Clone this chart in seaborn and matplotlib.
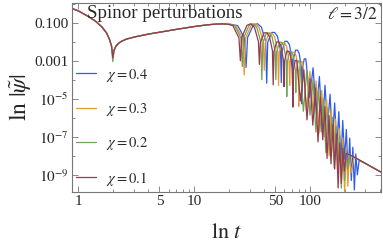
import numpy as np
import pandas as pd
import matplotlib
matplotlib.use("Agg")
import matplotlib.pyplot as plt
import seaborn as sns
from matplotlib.ticker import FixedLocator, FixedFormatter, NullFormatter

# --- data: t and log10|psi| ---
# early part, identical for every chi
t_early = [0.88, 1.0, 1.2, 1.4, 1.6, 1.75, 1.85, 1.93]
lg_early = [-0.25, -0.38, -0.65, -0.91, -1.23, -1.54, -1.86, -2.22]
t_dip0 = 1.98
lg_dip0 = [-2.6, -2.8, -3.05, -2.85]          # chi = 0.4, 0.3, 0.2, 0.1
t_rise = [2.03, 2.1, 2.2, 2.35, 2.6, 3.1, 4.0, 5.0, 7.0, 10.0, 13.0, 15.5, 17.5]
lg_rise = [-2.45, -2.25, -2.1, -1.98, -1.86, -1.74, -1.6, -1.5, -1.35, -1.2, -1.11, -1.07, -1.06]

# ringdown + tail, chi = 0.4
t_04 = [20.5, 23.7, 27.15, 28.0, 28.85, 32.26, 35.1, 37.96, 41.35, 42.2, 43.05, 46.46, 49.3,
        52.16, 55.55, 56.4, 57.25, 60.66, 63.5, 66.36, 69.75, 70.6, 71.45, 74.86, 77.7, 80.56,
        83.95, 84.8, 85.65, 89.06, 91.9, 99.0, 106.1, 113.2, 120.3, 127.4, 134.5, 141.6, 148.7,
        155.8, 162.9, 170.0, 177.1, 184.2, 191.3, 198.4, 205.5, 212.6, 219.7, 226.8, 233.9,
        241.0, 248.0, 256.0, 265.0, 300.0, 350.0, 410.0]
lg_04 = [-1.08, -1.15, -1.8, -3.35, -1.78, -1.14, -1.05, -1.23, -1.98, -4.18, -2.04, -1.51, -1.51,
         -1.70, -2.45, -4.15, -2.50, -1.97, -1.98, -2.16, -2.91, -4.21, -2.97, -2.44, -2.44, -2.62,
         -3.37, -5.27, -3.43, -2.90, -2.90, -4.94, -3.37, -5.80, -3.83, -6.56, -4.29, -6.43, -4.76,
         -7.29, -5.22, -7.55, -5.68, -8.51, -6.14, -8.18, -6.61, -9.04, -7.07, -9.3, -7.55,
         -9.8, -7.9, -9.0, -8.24, -8.40, -8.63, -8.86]

# chi = 0.3
t_03 = [20.0, 22.8, 26.2, 27.0, 27.8, 31.0, 33.6, 36.2, 39.4, 40.2, 41.0, 44.2, 46.8, 49.4, 52.6,
        53.4, 54.2, 57.4, 60.0, 62.6, 65.8, 66.6, 67.4, 70.6, 73.2, 75.8, 79.0, 79.8, 80.6, 83.8,
        86.4, 93.0, 99.6, 106.2, 112.8, 119.4, 126.0, 132.6, 139.2, 145.8, 152.4, 159.0, 165.6,
        172.2, 178.8, 185.4, 192.0, 198.6, 205.2, 211.8, 218.0, 226.0, 240.0, 300.0, 350.0, 410.0]
lg_03 = [-1.08, -1.15, -1.8, -3.75, -1.78, -1.14, -1.05, -1.24, -2.0, -3.5, -2.06, -1.54, -1.55,
         -1.74, -2.50, -4.3, -2.56, -2.04, -2.05, -2.24, -3.0, -4.3, -3.06, -2.55, -2.55, -2.74,
         -3.51, -5.41, -3.57, -3.05, -3.06, -5.61, -3.56, -5.71, -4.06, -6.81, -4.56, -7.01, -5.06,
         -8.01, -5.56, -7.82, -6.07, -8.72, -6.57, -9.12, -7.07, -9.92, -7.57, -9.6, -7.9, -8.9,
         -8.08, -8.40, -8.63, -8.86]

# chi = 0.2
t_02 = [20.0, 22.3, 25.26, 26.0, 26.74, 29.7, 32.15, 34.6, 37.56, 38.3, 39.04, 42.0, 44.45, 46.9,
        49.86, 50.6, 51.34, 54.3, 56.75, 59.2, 62.16, 62.9, 63.64, 66.6, 69.05, 71.5, 74.46, 75.2,
        75.94, 78.9, 81.35, 87.5, 93.65, 99.8, 105.95, 112.1, 118.25, 124.4, 130.55, 136.7,
        142.85, 149.0, 155.15, 161.3, 167.45, 173.6, 179.75, 185.9, 192.05, 198.2, 204.0, 211.0,
        220.0, 250.0, 300.0, 350.0, 410.0]
lg_02 = [-1.08, -1.15, -1.8, -3.3, -1.78, -1.14, -1.05, -1.24, -2.0, -4.0, -2.06, -1.53, -1.54,
         -1.73, -2.49, -3.99, -2.55, -2.03, -2.03, -2.22, -2.98, -4.88, -3.04, -2.52, -2.53, -2.71,
         -3.47, -4.67, -3.53, -3.01, -3.02, -5.66, -3.51, -5.86, -4.00, -6.75, -4.49, -6.74,
         -4.99, -7.83, -5.48, -7.92, -5.97, -8.62, -6.46, -8.71, -6.95, -9.7, -7.45, -9.3, -7.75,
         -8.7, -7.96, -8.14, -8.40, -8.63, -8.86]

# chi = 0.1
t_01 = [19.5, 21.55, 24.3, 25.0, 25.7, 28.45, 30.75, 33.05, 35.8, 36.5, 37.2, 39.95, 42.25, 44.55,
        47.3, 48.0, 48.7, 51.45, 53.75, 56.05, 58.8, 59.5, 60.2, 62.95, 65.25, 67.55, 70.3, 71.0,
        71.7, 74.45, 76.75, 82.5, 88.25, 94.0, 99.75, 105.5, 111.25, 117.0, 122.75, 128.5,
        134.25, 140.0, 145.75, 151.5, 157.25, 163.0, 168.75, 174.5, 180.25, 186.0, 191.75,
        197.5, 205.0, 240.0, 300.0, 350.0, 410.0]
lg_01 = [-1.08, -1.15, -1.8, -3.0, -1.78, -1.14, -1.05, -1.24, -1.99, -3.19, -2.05, -1.53, -1.53,
         -1.72, -2.47, -4.27, -2.53, -2.01, -2.02, -2.20, -2.96, -4.36, -3.02, -2.49, -2.50, -2.69,
         -3.44, -5.44, -3.50, -2.98, -2.98, -5.12, -3.47, -6.11, -3.95, -6.39, -4.43, -7.27,
         -4.91, -7.16, -5.40, -8.14, -5.88, -8.42, -6.36, -8.70, -6.85, -9.69, -7.33, -9.45,
         -7.6, -8.8, -7.87, -8.06, -8.40, -8.63, -8.86]

chis = ["0.4", "0.3", "0.2", "0.1"]
colors = ["#2D5AF0", "#E59A2A", "#72A25C", "#963A4E"]
t_late = [t_04, t_03, t_02, t_01]
lg_late = [lg_04, lg_03, lg_02, lg_01]

frames = []
for chi, dip, tl, ll in zip(chis, lg_dip0, t_late, lg_late):
    t = t_early + [t_dip0] + t_rise + tl
    lg = lg_early + [dip] + lg_rise + ll
    lab = r"$\chi = %s$" % chi
    frames.append(pd.DataFrame({"t": t, "psi": 10.0 ** np.array(lg), "chi": lab}))
df = pd.concat(frames, ignore_index=True)
labels = [r"$\chi = %s$" % c for c in chis]

sns.set_style("ticks")
plt.rcParams["font.family"] = "serif"
plt.rcParams["font.serif"] = ["Liberation Serif", "DejaVu Serif"]
plt.rcParams["mathtext.fontset"] = "stix"

fig = plt.figure(figsize=(3.83, 2.47), dpi=100)
ax = fig.add_axes([0.188, 0.223, 0.807, 0.765])
ax.set_xscale("log")
ax.set_yscale("log")

sns.lineplot(data=df, x="t", y="psi", hue="chi", hue_order=labels,
             palette=dict(zip(labels, colors)), estimator=None, sort=False,
             linewidth=0.9, ax=ax)

ax.set_xlim(0.88, 410)
ax.set_ylim(10 ** -9.9, 10 ** 0.04)

ax.xaxis.set_major_locator(FixedLocator([1, 5, 10, 50, 100]))
ax.xaxis.set_major_formatter(FixedFormatter(["1", "5", "10", "50", "100"]))
ax.xaxis.set_minor_locator(FixedLocator([2, 3, 4, 6, 7, 8, 9, 20, 30, 40, 60, 70, 80, 90, 200, 300, 400]))
ax.xaxis.set_minor_formatter(NullFormatter())
ax.yaxis.set_major_locator(FixedLocator([1e-1, 1e-3, 1e-5, 1e-7, 1e-9]))
ax.yaxis.set_major_formatter(FixedFormatter(["0.100", "0.001", r"$10^{-5}$", r"$10^{-7}$", r"$10^{-9}$"]))
ax.yaxis.set_minor_locator(FixedLocator([1.0, 1e-2, 1e-4, 1e-6, 1e-8]))
ax.yaxis.set_minor_formatter(NullFormatter())

ax.tick_params(which="both", direction="in", top=True, right=True, color="#777777",
               width=0.6, labelsize=11, pad=2.5)
ax.tick_params(which="major", length=4)
ax.tick_params(which="minor", length=2.2)
for s in ax.spines.values():
    s.set_color("#777777")
    s.set_linewidth(0.8)

ax.set_xlabel(r"$\ln\, t$", fontsize=16, labelpad=11)
ax.set_ylabel(r"$\ln\,|\tilde{\psi}|$", fontsize=17, labelpad=1)

ax.text(0.05, 0.945, "Spinor perturbations", transform=ax.transAxes, fontsize=13.7,
        ha="left", va="center")
ax.text(0.99, 0.935, r"$\ell = 3/2$", transform=ax.transAxes, fontsize=12.5,
        ha="right", va="center")

handles, labs = ax.get_legend_handles_labels()
ax.legend(handles, labs, loc="lower left", bbox_to_anchor=(-0.006, -0.008), frameon=False,
          fontsize=10.5, handlelength=1.37, handletextpad=0.68, labelspacing=1.19,
          borderaxespad=0.0)

fig.savefig("out.png", dpi=100)
